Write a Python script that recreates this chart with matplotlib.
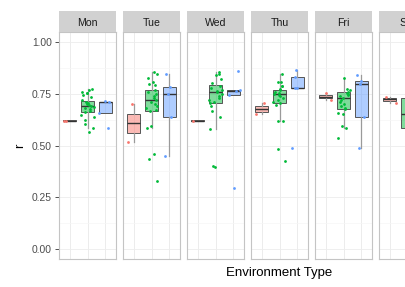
import matplotlib
matplotlib.use("Agg")
import matplotlib.pyplot as plt
from matplotlib.colors import to_rgba
import numpy as np

plt.rcParams["font.family"] = ["Liberation Sans", "DejaVu Sans"]

days = ["Mon", "Tue", "Wed", "Thu", "Fri", "Sat"]
types = ["A", "B", "C"]
colors = ["#F8766D", "#00BA38", "#619CFF"]

# box stats per day/type: (whislo, q1, med, q3, whishi)
box_stats = {
    "Mon": [(0.617, 0.617, 0.620, 0.623, 0.623),
            (0.586, 0.660, 0.692, 0.715, 0.776),
            (0.658, 0.658, 0.709, 0.712, 0.716)],
    "Tue": [(0.515, 0.559, 0.607, 0.652, 0.699),
            (0.583, 0.667, 0.720, 0.771, 0.857),
            (0.449, 0.639, 0.749, 0.784, 0.845)],
    "Wed": [(0.617, 0.617, 0.620, 0.623, 0.623),
            (0.580, 0.704, 0.757, 0.792, 0.857),
            (0.744, 0.744, 0.765, 0.768, 0.768)],
    "Thu": [(0.651, 0.663, 0.678, 0.692, 0.707),
            (0.618, 0.704, 0.750, 0.768, 0.845),
            (0.778, 0.778, 0.780, 0.834, 0.868)],
    "Fri": [(0.720, 0.728, 0.736, 0.744, 0.752),
            (0.583, 0.675, 0.731, 0.760, 0.829),
            (0.489, 0.639, 0.797, 0.812, 0.840)],
    "Sat": [(0.705, 0.717, 0.724, 0.731, 0.734),
            (0.550, 0.586, 0.655, 0.728, 0.800),
            None],
}

# jittered observations per day/type
points = {
    "Mon": [[0.62, 0.62],
            [0.776, 0.768, 0.76, 0.755, 0.752, 0.744, 0.733, 0.72, 0.712, 0.705,
             0.70, 0.695, 0.69, 0.688, 0.68, 0.675, 0.668, 0.662, 0.65, 0.64,
             0.623, 0.602, 0.586, 0.567],
            [0.716, 0.709, 0.658, 0.585]],
    "Tue": [[0.70, 0.515],
            [0.857, 0.848, 0.829, 0.808, 0.797, 0.792, 0.771, 0.76, 0.75, 0.74,
             0.73, 0.72, 0.71, 0.70, 0.69, 0.68, 0.672, 0.667, 0.596, 0.583,
             0.459, 0.435, 0.33],
            [0.845, 0.784, 0.749, 0.639, 0.449]],
    "Wed": [[0.62],
            [0.857, 0.846, 0.841, 0.822, 0.804, 0.79, 0.78, 0.77, 0.762, 0.757,
             0.75, 0.74, 0.73, 0.72, 0.71, 0.704, 0.691, 0.668, 0.639, 0.58,
             0.401, 0.398],
            [0.861, 0.768, 0.765, 0.744, 0.296]],
    "Thu": [[0.707, 0.651],
            [0.845, 0.808, 0.808, 0.789, 0.787, 0.775, 0.768, 0.76, 0.755, 0.75,
             0.745, 0.74, 0.73, 0.72, 0.71, 0.704, 0.696, 0.62, 0.618, 0.483,
             0.425],
            [0.868, 0.834, 0.78, 0.778, 0.486]],
    "Fri": [[0.752, 0.72],
            [0.829, 0.776, 0.768, 0.76, 0.755, 0.75, 0.745, 0.74, 0.73, 0.72,
             0.71, 0.70, 0.69, 0.68, 0.675, 0.658, 0.654, 0.596, 0.583, 0.535],
            [0.84, 0.812, 0.797, 0.639, 0.489]],
    "Sat": [[0.734, 0.705], [], []],
}

yticks = [0.0, 0.25, 0.5, 0.75, 1.0]

W, H = 405, 287
fig = plt.figure(figsize=(W / 100, H / 100), dpi=100)
rng = np.random.default_rng(3)

for i, day in enumerate(days):
    left = 59 + i * 64
    ax = fig.add_axes([left / W, (H - 259) / H, 57 / W, 227 / H])
    ax.set_xlim(0.4, 3.6)
    ax.set_ylim(-0.05, 1.05)
    ax.set_yticks(yticks)
    ax.set_yticks([0.125, 0.375, 0.625, 0.875], minor=True)
    ax.set_xticks([1, 2, 3])
    ax.grid(which="major", color="#ececec", lw=0.6)
    ax.grid(which="minor", axis="y", color="#f6f6f6", lw=0.5)
    ax.set_axisbelow(True)
    for sp in ax.spines.values():
        sp.set_color("#c4c4c4")
        sp.set_linewidth(0.8)
    ax.tick_params(axis="x", length=0, labelbottom=False)
    ax.tick_params(which="minor", length=0)
    if i == 0:
        ax.set_yticklabels([f"{t:.2f}" for t in yticks])
        ax.tick_params(axis="y", length=3, width=0.6, color="#333333",
                       labelsize=7.4, labelcolor="#4d4d4d", pad=2)
        ax.set_ylabel("r", fontsize=9.5, labelpad=4)
    else:
        ax.tick_params(axis="y", length=0, labelleft=False)

    for j, st in enumerate(box_stats[day]):
        if st is None:
            continue
        lo, q1, med, q3, hi = st
        ax.bxp([dict(whislo=lo, q1=q1, med=med, q3=q3, whishi=hi, fliers=[])],
               positions=[j + 1], widths=0.75, patch_artist=True,
               showfliers=False, showcaps=False,
               boxprops=dict(facecolor=to_rgba(colors[j], 0.5),
                             edgecolor="#555555", lw=0.7),
               whiskerprops=dict(color="#9a9a9a", lw=0.9),
               medianprops=dict(color="#333333", lw=1.0))
        ys = points[day][j]
        if ys:
            xs = j + 1 + rng.uniform(-0.38, 0.38, len(ys))
            ax.scatter(xs, ys, s=4, color=colors[j], lw=0, zorder=5)

    # facet strip
    sax = fig.add_axes([left / W, (H - 32) / H, 57 / W, 21 / H])
    sax.set_xticks([])
    sax.set_yticks([])
    sax.set_facecolor("#d1d1d1")
    for sp in sax.spines.values():
        sp.set_visible(False)
    sax.text(0.5, 0.45, day, ha="center", va="center", fontsize=7.6,
             color="#1a1a1a", transform=sax.transAxes)

fig.text(279.5 / W, (H - 273) / H, "Environment Type", ha="center", va="center",
         fontsize=9.5, color="#000000")

fig.savefig("out.png", dpi=100)
